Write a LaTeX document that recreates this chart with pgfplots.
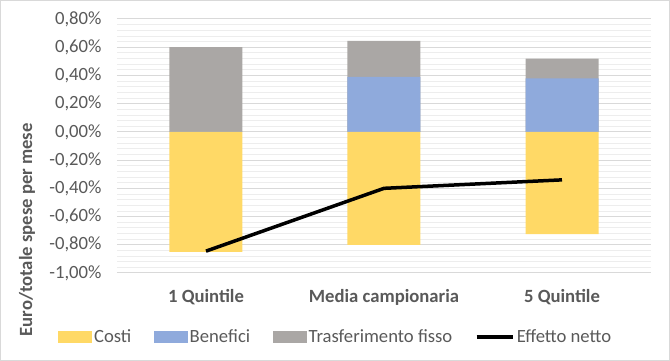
\documentclass[border=0pt]{standalone}
\usepackage{pgfplots}
\pgfplotsset{compat=1.18}
\usepackage{pgfplotstable}
\usepackage{fontspec}
\setmainfont{Carlito}
\definecolor{giallo}{HTML}{FFD966}
\definecolor{blu}{HTML}{8FAADC}
\definecolor{grigio}{HTML}{AAA7A5}
\definecolor{testo}{HTML}{595959}
\definecolor{gridmaj}{HTML}{D9D9D9}
\definecolor{gridmin}{HTML}{EDEDED}
\pgfplotstableread{
x costi benefici trasf netto
0 -0.85 0.00 0.60 -0.845
1 -0.80 0.39 0.255 -0.40
2 -0.725 0.38 0.14 -0.34
}\data
\newcommand{\fs}{\fontsize{18.67}{22}\selectfont}
\begin{document}
\begin{tikzpicture}
\draw[gridmaj, line width=1pt] (-116.5pt,-87.5pt) rectangle (552.5pt,272.5pt);
\begin{axis}[
  scale only axis, width=534pt, height=254pt,
  xmin=-0.5, xmax=2.5, ymin=-1, ymax=0.8,
  axis line style={draw=none},
  major tick length=0pt, minor tick length=0pt,
  ytick distance=0.2, minor y tick num=4,
  ymajorgrids, yminorgrids,
  major grid style={gridmaj, line width=1pt},
  minor grid style={gridmin, line width=0.8pt},
  xtick={0,1,2},
  xticklabels={1 Quintile, Media campionaria, 5 Quintile},
  x tick label style={font=\fs\bfseries, text=testo, yshift=-13pt},
  y tick label style={font=\fs, text=testo, anchor=east, xshift=-12pt},
  /pgf/number format/assume math mode=true,
  yticklabel={\pgfmathprintnumber[fixed,fixed zerofill,precision=2,use comma]{\tick}\%},
  ylabel={Euro/totale spese per mese},
  ylabel style={font=\fs\bfseries, text=testo, at={(axis description cs:-0.1685,0.17)}, anchor=center},
  legend columns=4,
  legend style={draw=none, fill=none, font=\fs, text=testo,
    at={(axis description cs:0.41,-0.252)}, anchor=center,
    /tikz/every even column/.append style={column sep=20pt},
    nodes={inner sep=2.5pt}},
]
\addplot[ybar, bar width=73pt, bar shift=0pt, fill=grigio, draw=none, forget plot]
  table[x=x, y expr=\thisrow{benefici}+\thisrow{trasf}] {\data};
\addplot[ybar, bar width=73pt, bar shift=0pt, fill=blu, draw=none, forget plot]
  table[x=x, y=benefici] {\data};
\addplot[ybar, bar width=73pt, bar shift=0pt, fill=giallo, draw=none, forget plot]
  table[x=x, y=costi] {\data};
\addplot[black, line width=3.5pt, no markers, forget plot]
  table[x=x, y=netto] {\data};
\addlegendimage{legend image code/.code={\fill[giallo] (0pt,-5.5pt) rectangle (33pt,5.5pt);}}
\addlegendentry{Costi}
\addlegendimage{legend image code/.code={\fill[blu] (0pt,-5.5pt) rectangle (33pt,5.5pt);}}
\addlegendentry{Benefici}
\addlegendimage{legend image code/.code={\fill[grigio] (0pt,-5.5pt) rectangle (33pt,5.5pt);}}
\addlegendentry{Trasferimento fisso}
\addlegendimage{legend image code/.code={\draw[black, line width=3.5pt] (0pt,0pt) -- (36pt,0pt);}}
\addlegendentry{Effetto netto}
\end{axis}
\end{tikzpicture}
\end{document}
